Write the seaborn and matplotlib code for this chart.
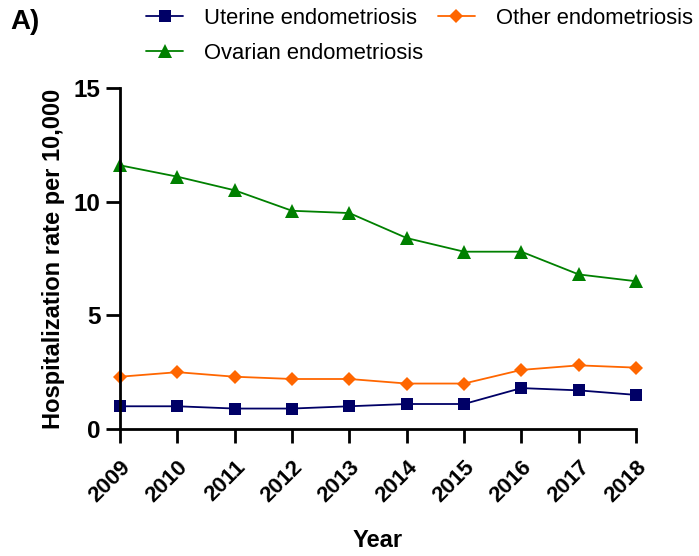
import matplotlib
matplotlib.use("Agg")
import matplotlib.pyplot as plt
import matplotlib.transforms as mtransforms
import seaborn as sns
import pandas as pd

years = [2009, 2010, 2011, 2012, 2013, 2014, 2015, 2016, 2017, 2018]
uterine = [1.0, 1.0, 0.9, 0.9, 1.0, 1.1, 1.1, 1.8, 1.7, 1.5]
other = [2.3, 2.5, 2.3, 2.2, 2.2, 2.0, 2.0, 2.6, 2.8, 2.7]
ovarian = [11.6, 11.1, 10.5, 9.6, 9.5, 8.4, 7.8, 7.8, 6.8, 6.5]

series_names = ["Uterine endometriosis", "Other endometriosis", "Ovarian endometriosis"]
y_ticks = [0, 5, 10, 15]

sns.set_theme(style="ticks")
plt.rcParams["font.family"] = ["Liberation Sans", "DejaVu Sans"]
plt.rcParams["text.color"] = "black"
plt.rcParams["axes.labelcolor"] = "black"
plt.rcParams["xtick.color"] = "black"
plt.rcParams["ytick.color"] = "black"

df = pd.DataFrame({
    "Year": years * 3,
    "Rate": uterine + other + ovarian,
    "Type": [series_names[0]] * 10 + [series_names[1]] * 10 + [series_names[2]] * 10,
})

palette = {series_names[0]: "#000066", series_names[1]: "#ff6600", series_names[2]: "#008000"}
markers = {series_names[0]: "s", series_names[1]: "D", series_names[2]: "^"}
sizes = {series_names[0]: 9, series_names[1]: 7, series_names[2]: 9.5}

fig = plt.figure(figsize=(6.99, 5.56), dpi=100)
ax = fig.add_axes([0.1717, 0.2284, 0.7382, 0.6133])

for name in series_names:
    sub = df[df["Type"] == name]
    sns.lineplot(data=sub, x="Year", y="Rate", ax=ax, color=palette[name],
                 marker=markers[name], markersize=sizes[name], markeredgewidth=0,
                 linewidth=1.3, label=name, clip_on=False)

ax.set_xlim(2009, 2018)
ax.set_ylim(0, 15)
ax.set_xticks(years)
ax.set_yticks(y_ticks)
ax.set_xticklabels([str(y) for y in years], rotation=45, ha="right",
                   rotation_mode="anchor", fontsize=16, fontweight="bold")
ax.set_yticklabels([str(t) for t in y_ticks], fontsize=17.5, fontweight="bold")
ax.set_xlabel("Year", fontsize=17, fontweight="bold", labelpad=16)
ax.set_ylabel("Hospitalization rate per 10,000", fontsize=17, fontweight="bold", labelpad=6)

# nudge the slanted year labels slightly left so they sit under their ticks
shift = mtransforms.ScaledTranslation(-6 / 100, 0, fig.dpi_scale_trans)
for lbl in ax.get_xticklabels():
    lbl.set_transform(lbl.get_transform() + shift)

for side in ["top", "right"]:
    ax.spines[side].set_visible(False)
for side in ["left", "bottom"]:
    ax.spines[side].set_linewidth(2)
    ax.spines[side].set_color("black")
ax.tick_params(axis="both", width=2, length=10, direction="out")
ax.tick_params(axis="x", pad=10)
ax.tick_params(axis="y", pad=4)

# legend laid out row by row: Uterine, Other / Ovarian
handles, labels = ax.get_legend_handles_labels()
order = [labels.index(series_names[0]), labels.index(series_names[2]), labels.index(series_names[1])]
ax.legend([handles[i] for i in order], [labels[i] for i in order],
          loc="upper left", bbox_to_anchor=(146 / 699, 1 - 8 / 556),
          bbox_transform=fig.transFigure, ncol=2, frameon=False,
          fontsize=15.8, handlelength=1.69, columnspacing=0.65, handletextpad=0.96,
          borderaxespad=0, borderpad=0, labelspacing=0.62)

fig.text(10 / 699, 1 - 22 / 556, "A)", fontsize=20, fontweight="bold", ha="left", va="center")

fig.savefig("out.png", dpi=100)
